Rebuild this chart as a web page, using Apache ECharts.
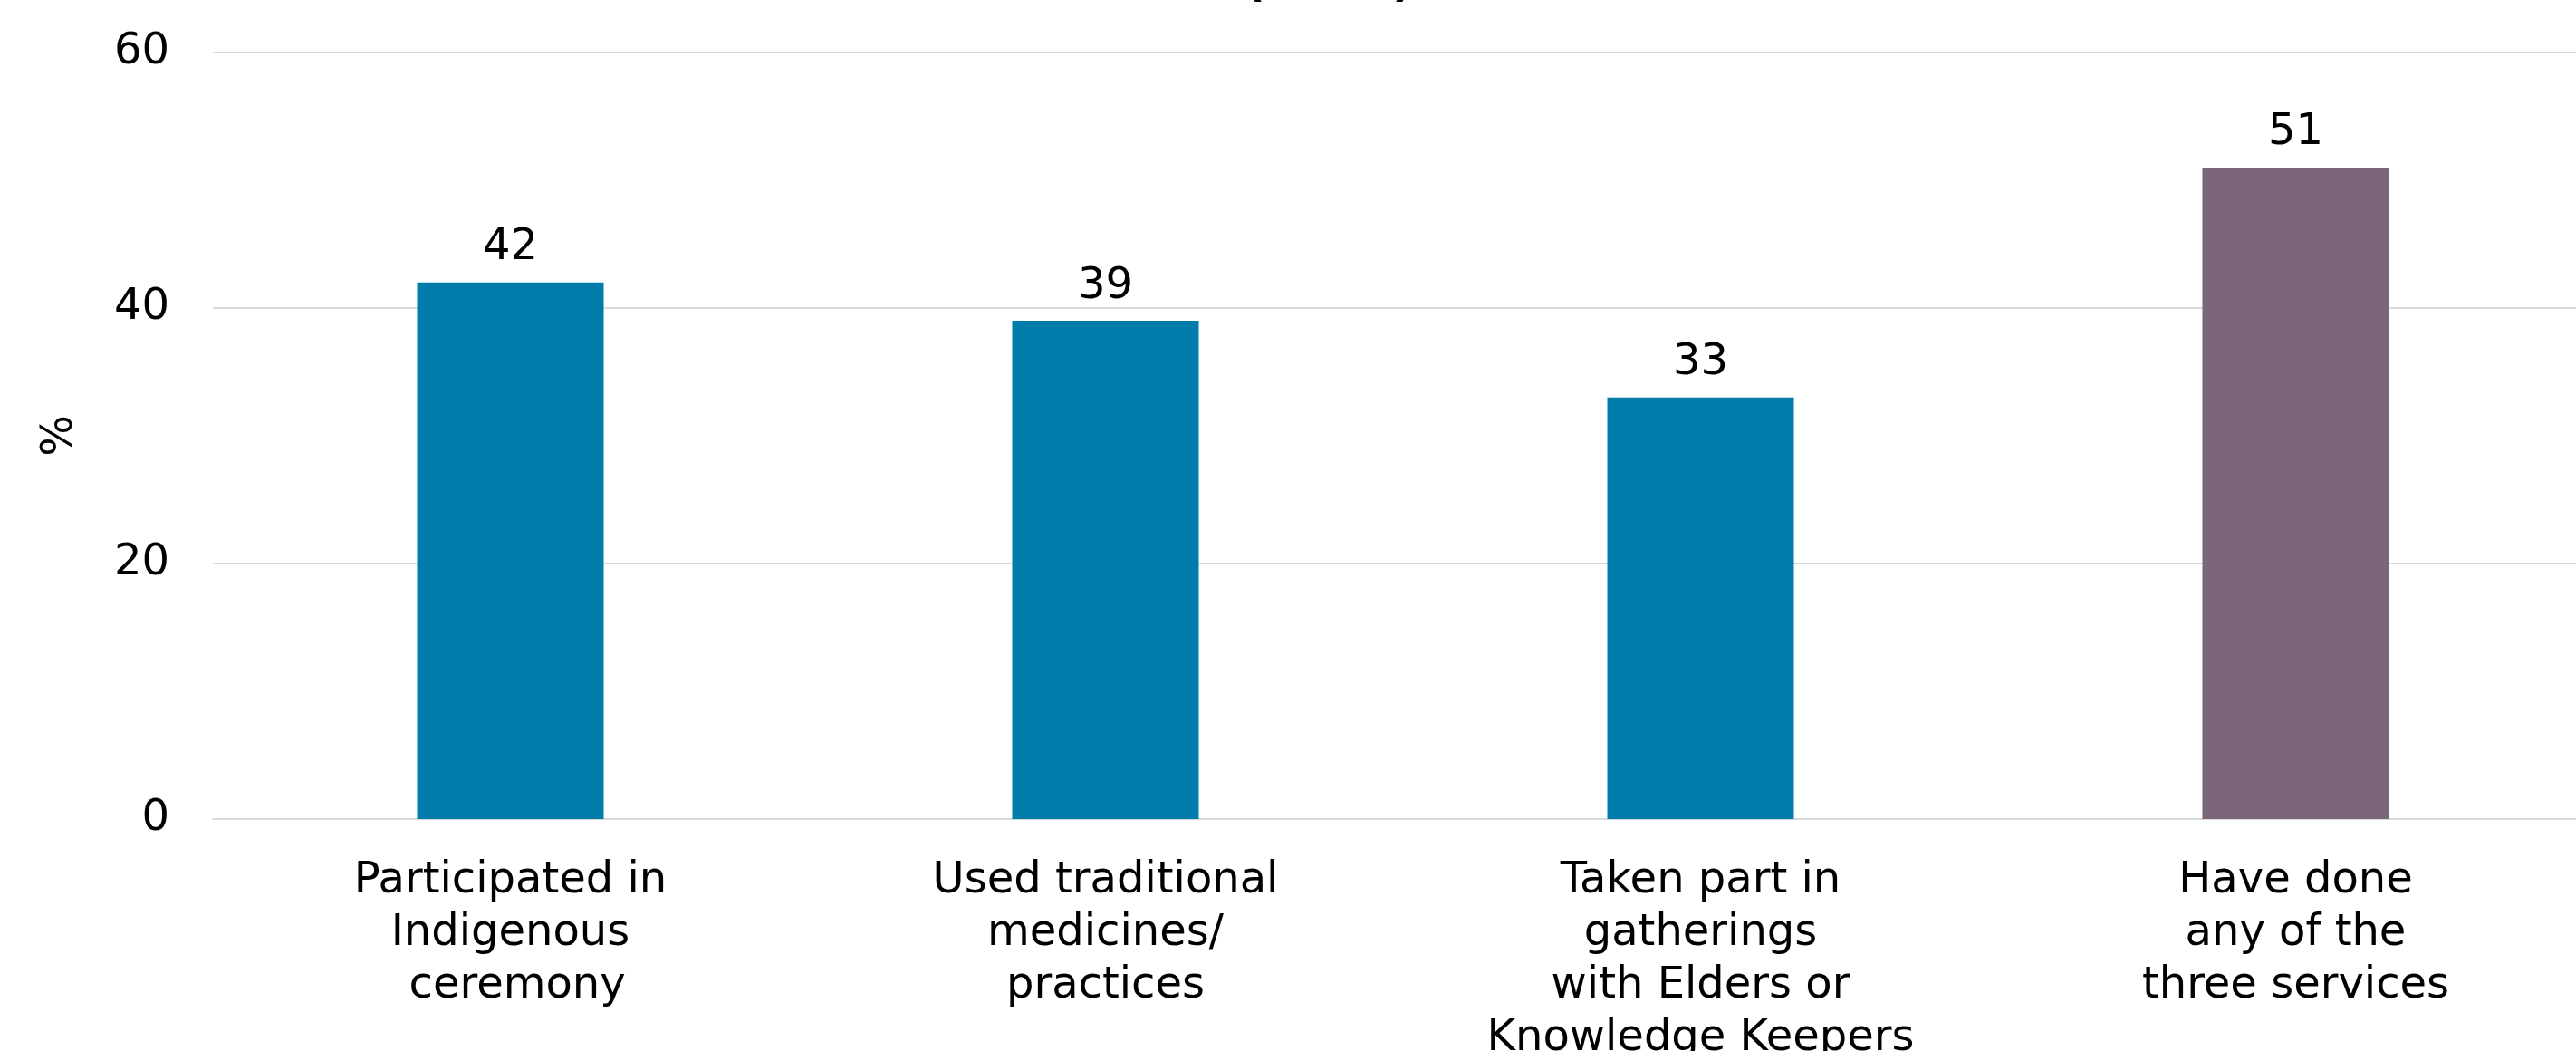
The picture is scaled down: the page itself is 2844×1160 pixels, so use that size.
<!DOCTYPE html>
<html>
<head>
<meta charset="utf-8">
<title>Traditional healing services</title>
<script src="https://cdn.jsdelivr.net/npm/echarts@6/dist/echarts.min.js"></script>
<style>
  html, body { margin: 0; padding: 0; background: #ffffff; }
  #chart { width: 2844px; height: 1160px; }
</style>
</head>
<body>
<div id="chart"></div>
<script>
// Categories along the x axis
const categories = [
  'Participated in\nIndigenous\n ceremony',
  'Used traditional\nmedicines/\npractices',
  'Taken part in\ngatherings\nwith Elders or\nKnowledge Keepers',
  'Have done\nany of the\nthree services'
];
// Share of respondents (%)
const values = [42, 39, 33, 51];
// Y axis ticks
const yTicks = [0, 20, 40, 60];

const BLUE = '#007CAB';
const PURPLE = '#7C667E';
const FONT = '"DejaVu Sans", Verdana, sans-serif';

const chart = echarts.init(document.getElementById('chart'), null, { renderer: 'canvas' });

chart.setOption({
  backgroundColor: '#ffffff',
  animation: false,
  title: {
    text: '(n=55)',
    left: 1462,
    textAlign: 'center',
    top: -45,
    textStyle: { fontFamily: FONT, fontSize: 48, fontWeight: 'bold', color: '#000000' }
  },
  grid: {
    left: 235, top: 58, width: 2628, height: 846,
    containLabel: false,
    outerBoundsMode: 'none'
  },
  xAxis: {
    type: 'category',
    data: categories,
    axisLine: { show: true, lineStyle: { color: '#D9D9D9', width: 2 } },
    axisTick: { show: false },
    axisLabel: {
      interval: 0,
      margin: 40,
      color: '#000000',
      fontFamily: FONT,
      fontSize: 48,
      lineHeight: 58,
      align: 'center'
    }
  },
  yAxis: {
    type: 'value',
    min: yTicks[0],
    max: yTicks[yTicks.length - 1],
    interval: 20,
    name: '%',
    nameLocation: 'middle',
    nameRotate: 90,
    nameGap: 144,
    nameTextStyle: { color: '#000000', fontFamily: FONT, fontSize: 48 },
    axisLine: { show: false },
    axisTick: { show: false },
    splitLine: { lineStyle: { color: '#D9D9D9', width: 2 } },
    axisLabel: {
      margin: 48,
      color: '#000000',
      fontFamily: FONT,
      fontSize: 48
    }
  },
  series: [{
    type: 'bar',
    data: values.map((v, i) => ({
      value: v,
      itemStyle: { color: i === values.length - 1 ? PURPLE : BLUE }
    })),
    barWidth: 206,
    label: {
      show: true,
      position: 'top',
      distance: 14,
      color: '#000000',
      fontFamily: FONT,
      fontSize: 48
    }
  }]
});
</script>
</body>
</html>
